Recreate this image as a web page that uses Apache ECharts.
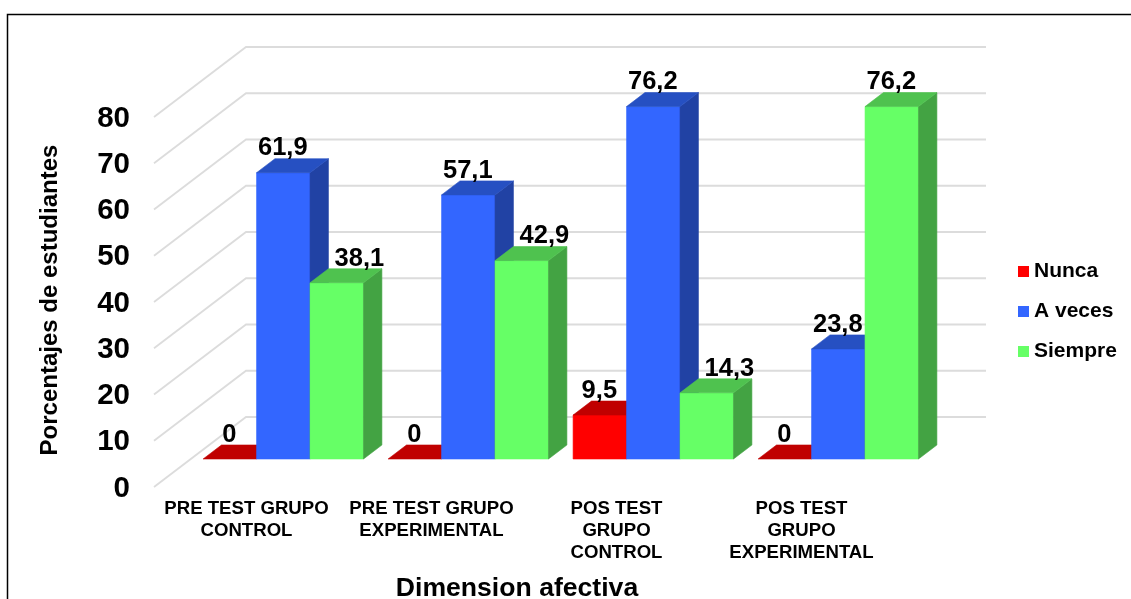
<!DOCTYPE html>
<html>
<head>
<meta charset="utf-8">
<script src="https://cdn.jsdelivr.net/npm/echarts@6/dist/echarts.min.js"></script>
<style>html,body{margin:0;padding:0;background:#fff}#c{width:1131px;height:599px}</style>
</head>
<body>
<div id="c"></div>
<script>
const categories = ['PRE TEST GRUPO\nCONTROL', 'PRE TEST GRUPO\nEXPERIMENTAL', 'POS TEST\nGRUPO\nCONTROL', 'POS TEST\nGRUPO\nEXPERIMENTAL'];
const yTicks = [0, 10, 20, 30, 40, 50, 60, 70, 80];
const nunca = [0, 0, 9.5, 0];
const aVeces = [61.9, 57.1, 76.2, 23.8];
const siempre = [38.1, 42.9, 14.3, 76.2];

const FONT = '"Liberation Sans", Arial, sans-serif';
const WALL_DX = 0.4973;   // depth of the floor, in category bands
const WALL_DY = 15.14;    // depth of the floor, in value units
const NEAR = 0.4, FAR = 0.6; // where the bars sit between front (0) and back wall (1)
const BAR_W = 0.289;      // in category bands

function barRenderer(slot, faces, values, rivals) {
  return function (params, api) {
    const i = api.value(0), v = api.value(1);
    const base = api.coord([i, 0]);
    const top = api.coord([i, v]);
    const band = api.size([1, 0])[0];
    const unit = api.size([0, 1])[1];
    const nx = WALL_DX * band * NEAR, ny = WALL_DY * unit * NEAR;
    const dx = WALL_DX * band * (FAR - NEAR), dy = WALL_DY * unit * (FAR - NEAR);
    const w = BAR_W * band;
    const x0 = base[0] + nx + (slot - 1.5) * w;
    const x1 = x0 + w;
    const yb = base[1] - ny;
    const yt = top[1] - ny;
    const poly = (pts, fill) => ({
      type: 'polygon', shape: { points: pts },
      style: { fill: fill, stroke: fill, lineWidth: 0.6 }
    });
    const children = [];
    if (v > 0) {
      children.push(poly([[x0, yb], [x1, yb], [x1, yt], [x0, yt]], faces.front));
      children.push(poly([[x1, yb], [x1 + dx, yb - dy], [x1 + dx, yt - dy], [x1, yt]], faces.side));
    }
    children.push(poly([[x0, yt], [x1, yt], [x1 + dx, yt - dy], [x0 + dx, yt - dy]], faces.top));
    // a label that would sit in front of a taller neighbour is moved clear of it
    const shift = rivals && rivals[i] > v ? 0.125 * band : 0;
    children.push({
      type: 'text', z2: 50,
      style: {
        text: String(v).replace('.', ','),
        x: (x0 + x1) / 2 + shift - 0.5, y: yt - dy + 2.7,
        align: 'center', verticalAlign: 'bottom',
        font: 'bold 25.5px ' + FONT, fill: '#000'
      }
    });
    return { type: 'group', children: children };
  };
}

function wallRenderer(params, api) {
  const v = api.value(0);
  const p = api.coord([0, v]);
  const band = api.size([1, 0])[0];
  const unit = api.size([0, 1])[1];
  const left = p[0] - band / 2;
  const dx = WALL_DX * band, dy = WALL_DY * unit;
  const right = left + categories.length * band + dx;
  return {
    type: 'polyline',
    shape: { points: [[left, p[1]], [left + dx, p[1] - dy], [right, p[1] - dy]] },
    style: { fill: 'none', stroke: '#DCDCDC', lineWidth: 1.8 }
  };
}

function barSeries(name, slot, values, faces, rivals) {
  return {
    name: name, type: 'custom', coordinateSystem: 'cartesian2d',
    itemStyle: { color: faces.front },
    renderItem: barRenderer(slot, faces, values, rivals),
    encode: { x: 0, y: 1 },
    data: values.map((v, i) => [i, v]),
    clip: false, silent: true
  };
}

const chart = echarts.init(document.getElementById('c'), null, { renderer: 'canvas' });
chart.setOption({
  animation: false,
  backgroundColor: '#fff',
  textStyle: { fontFamily: FONT },
  graphic: [{
    type: 'rect', silent: true, z: -1,
    shape: { x: 7.5, y: 14.5, width: 1300, height: 700 },
    style: { fill: 'none', stroke: '#000', lineWidth: 1.5 }
  }],
  grid: { left: 154, top: 117, width: 740, height: 370, containLabel: false, outerBoundsMode: 'none' },
  legend: {
    data: ['Nunca', 'A veces', 'Siempre'],
    orient: 'vertical', left: 1018, top: 261, padding: 0,
    icon: 'rect', itemWidth: 11, itemHeight: 11, itemGap: 19,
    selectedMode: false,
    textStyle: { fontFamily: FONT, fontWeight: 'bold', fontSize: 21, color: '#000' }
  },
  xAxis: {
    type: 'category', data: categories,
    axisLine: { show: false }, axisTick: { show: false }, splitLine: { show: false },
    axisLabel: { interval: 0, fontFamily: FONT, fontWeight: 'bold', fontSize: 18.6, lineHeight: 22, color: '#000', margin: 11 },
    name: 'Dimension afectiva', nameLocation: 'middle', nameGap: 88,
    nameTextStyle: { fontFamily: FONT, fontWeight: 'bold', fontSize: 26.6, color: '#000', padding: [0, 14, 0, 0] }
  },
  yAxis: {
    type: 'value', min: 0, max: 80, interval: 10,
    axisLine: { show: false }, axisTick: { show: false }, splitLine: { show: false },
    axisLabel: {
      margin: 24, formatter: '{t|{value}}',
      rich: { t: { fontFamily: FONT, fontWeight: 'bold', fontSize: 29.5, color: '#000', padding: [3, 0, 0, 0] } }
    },
    name: 'Porcentajes de estudiantes', nameLocation: 'middle', nameGap: 92,
    nameTextStyle: { fontFamily: FONT, fontWeight: 'bold', fontSize: 24, color: '#000', padding: [0, 0, 0, 4] }
  },
  series: [
    {
      name: 'walls', type: 'custom', coordinateSystem: 'cartesian2d',
      renderItem: wallRenderer, encode: { y: 0 },
      data: yTicks.map(v => [v]), clip: false, silent: true, z: 1
    },
    barSeries('Nunca', 0, nunca, { front: '#FF0000', top: '#C00000', side: '#B00000' }),
    barSeries('A veces', 1, aVeces, { front: '#3366FF', top: '#2650C2', side: '#2142A4' }),
    barSeries('Siempre', 2, siempre, { front: '#66FF66', top: '#4FC24F', side: '#43A343' }, aVeces)
  ]
});
</script>
</body>
</html>
